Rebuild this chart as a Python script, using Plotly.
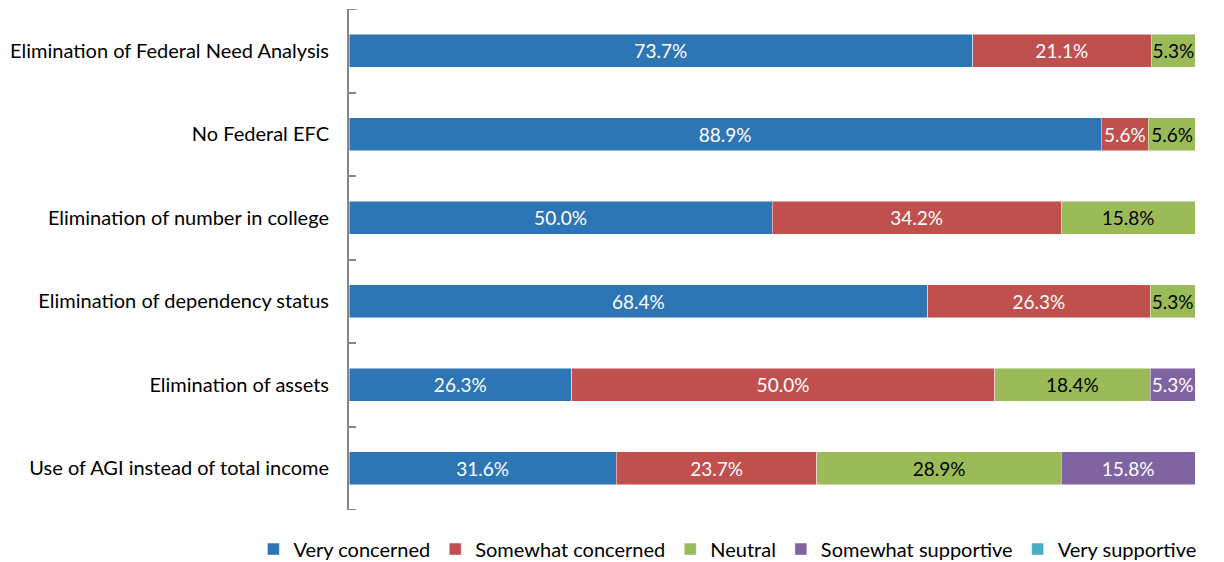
import plotly.graph_objects as go

categories = [
    "Elimination of Federal Need Analysis",
    "No Federal EFC",
    "Elimination of number in college",
    "Elimination of dependency status",
    "Elimination of assets",
    "Use of AGI instead of total income",
]
series_names = ["Very concerned", "Somewhat concerned", "Neutral", "Somewhat supportive", "Very supportive"]
very_concerned = [73.7, 88.9, 50.0, 68.4, 26.3, 31.6]
somewhat_concerned = [21.1, 5.6, 34.2, 26.3, 50.0, 23.7]
neutral = [5.3, 5.6, 15.8, 5.3, 18.4, 28.9]
somewhat_supportive = [0, 0, 0, 0, 5.3, 15.8]
very_supportive = [0, 0, 0, 0, 0, 0]

values = [very_concerned, somewhat_concerned, neutral, somewhat_supportive, very_supportive]
colors = ["#2E75B6", "#C0504D", "#9BBB59", "#8064A2", "#4BACC6"]
text_colors = ["white", "white", "black", "white", "white"]

FONT = "Lato"
fig = go.Figure()
for name, vals, col, tcol in zip(series_names, values, colors, text_colors):
    fig.add_trace(go.Bar(
        y=categories, x=vals, name=name, orientation="h",
        marker=dict(color=col, line=dict(color="rgba(255,255,255,0.6)", width=0.8)),
        text=[f"{v:.1f}%" if v > 0 else "" for v in vals],
        textposition="inside", insidetextanchor="middle",
        textfont=dict(color=tcol, size=19, family=FONT),
        hoverinfo="skip",
    ))

n = len(categories)
# end ticks of the category axis (top and bottom boundaries)
for yb in (-0.5, n - 0.5):
    fig.add_shape(type="line", xref="paper", yref="y", x0=0, x1=7 / 846, y0=yb, y1=yb,
                  line=dict(color="#868686", width=2), layer="above")

fig.update_layout(
    barmode="stack", bargap=0.6,
    width=1224, height=562,
    margin=dict(l=341, r=37, t=1, b=60),
    paper_bgcolor="white", plot_bgcolor="white",
    font=dict(family=FONT, size=20, color="black"),
    uniformtext=dict(minsize=19, mode="show"),
    showlegend=True,
    legend=dict(orientation="h", x=-0.113, xanchor="left", y=-0.078, yanchor="middle",
                font=dict(size=20, family=FONT), traceorder="normal",
                itemwidth=30, tracegroupgap=0),
    xaxis=dict(range=[0, 100], visible=False, fixedrange=True),
    yaxis=dict(
        autorange=False, range=[n - 0.5, -0.5], categoryorder="array", categoryarray=categories,
        tickson="boundaries", ticks="inside", ticklen=7, tickcolor="#868686", tickwidth=2,
        showline=True, linecolor="#868686", linewidth=2,
        ticklabelstandoff=14, tickfont=dict(size=20, family=FONT),
        showgrid=False, zeroline=False,
    ),
)

fig.write_html("out.html")
